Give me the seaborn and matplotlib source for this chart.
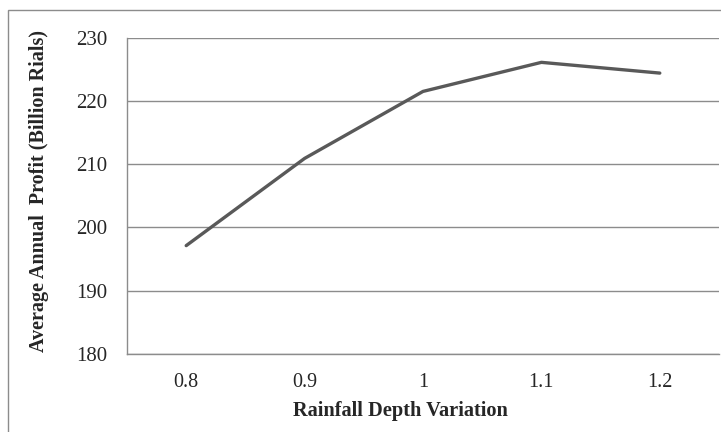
import matplotlib
matplotlib.use("Agg")
import matplotlib.pyplot as plt
import seaborn as sns
import pandas as pd
from matplotlib.patches import Rectangle

rainfall = [0.8, 0.9, 1.0, 1.1, 1.2]
tick_labels = ["0.8", "0.9", "1", "1.1", "1.2"]
profit = [197.1, 210.9, 221.5, 226.1, 224.4]

df = pd.DataFrame({"rainfall": rainfall, "profit": profit})

sns.set_style("white")
plt.rcParams['font.family'] = ['Liberation Serif', 'DejaVu Serif']

fig = plt.figure(figsize=(7.21, 4.32), dpi=100)
ax = fig.add_axes([127 / 721, 1 - 353.7 / 432, (719 - 127) / 721, (353.7 - 37.7) / 432])

# outer chart border (runs off the right and bottom edge)
fig.patches.append(Rectangle((8 / 721, -0.05), 1.1, 1 - 10 / 432 + 0.05,
                             transform=fig.transFigure, fill=False,
                             edgecolor='#8c8c8c', linewidth=1.0))

sns.lineplot(x='rainfall', y='profit', data=df, ax=ax, color='#595959', linewidth=2.4)

ax.set_xlim(0.75, 1.25)
ax.set_ylim(180, 230)
ax.set_yticks([180, 190, 200, 210, 220, 230])
ax.set_xticks(rainfall)
ax.set_xticklabels(tick_labels)
ax.yaxis.grid(True, color='#8c8c8c', linewidth=1.0)
ax.set_axisbelow(True)

for s in ['top', 'right']:
    ax.spines[s].set_visible(False)
for s in ['left', 'bottom']:
    ax.spines[s].set_color('#8c8c8c')
    ax.spines[s].set_linewidth(1.0)

ax.tick_params(axis='y', length=4, width=1.0, color='#8c8c8c', pad=10, labelsize=15)
ax.tick_params(axis='x', length=0, pad=14, labelsize=14.5)

ax.set_xlabel('Rainfall Depth Variation', fontsize=14.7, fontweight='bold')
ax.set_ylabel('Average Annual  Profit (Billion Rials)', fontsize=14.5, fontweight='bold')
ax.xaxis.set_label_coords((400 - 127) / 592, -(411 - 353.7) / 316)
ax.yaxis.set_label_coords(-(127 - 39) / 592, (353.7 - 191) / 316)
ax.xaxis.label.set_va('center')
ax.yaxis.label.set_va('center')

fig.savefig('out.png', dpi=100)
